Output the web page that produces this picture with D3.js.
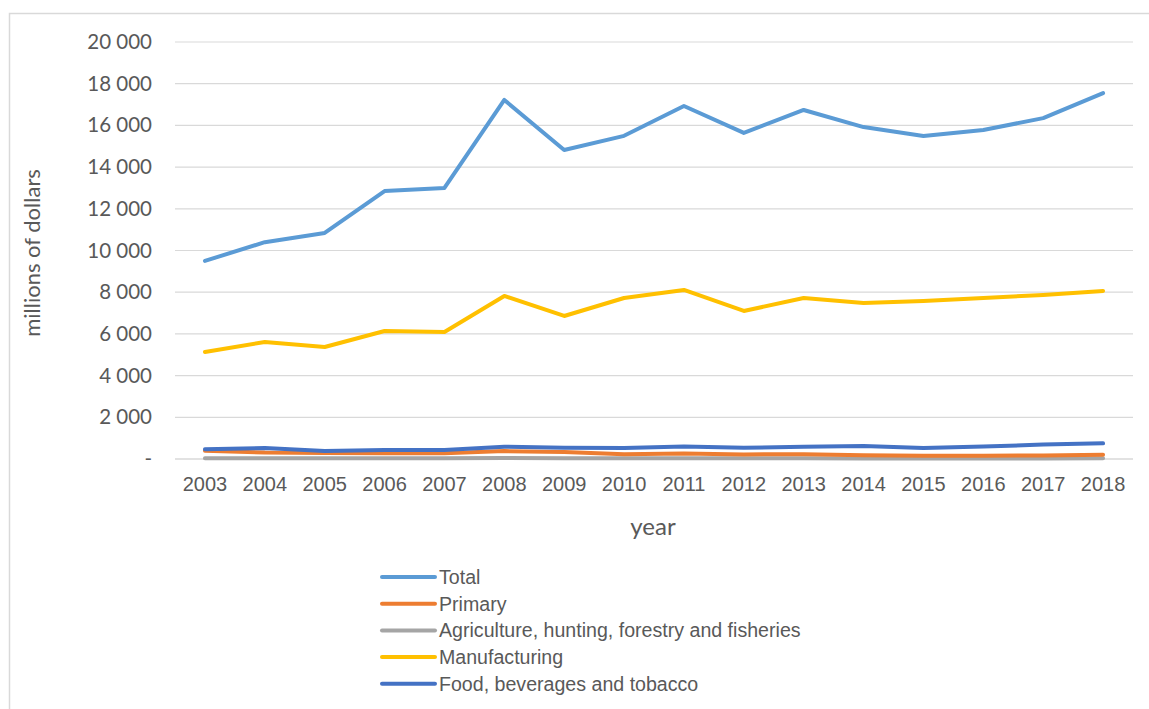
<!DOCTYPE html>
<html>
<head>
<meta charset="utf-8">
<script src="https://cdn.jsdelivr.net/npm/d3@7"></script>
<style>
  html, body { margin: 0; padding: 0; background: #fff; }
  svg { display: block; }
</style>
</head>
<body>
<svg id="chart" width="1149" height="709"></svg>
<script>
// Investment by sector, millions of dollars
const years = ["2003","2004","2005","2006","2007","2008","2009","2010","2011","2012","2013","2014","2015","2016","2017","2018"];
const total = [9500, 10400, 10840, 12850, 13000, 17220, 14820, 15500, 16930, 15640, 16740, 15920, 15490, 15780, 16350, 17550];
const primary = [400, 310, 290, 280, 280, 380, 330, 230, 260, 220, 230, 180, 160, 160, 170, 200];
const agriculture = [40, 40, 35, 35, 35, 45, 40, 35, 35, 35, 35, 30, 30, 30, 30, 35];
const manufacturing = [5130, 5610, 5370, 6140, 6090, 7820, 6860, 7720, 8110, 7100, 7720, 7480, 7580, 7720, 7870, 8060];
const food = [470, 530, 380, 430, 430, 590, 540, 530, 600, 540, 590, 620, 530, 600, 690, 750];
const yTicks = [0, 2000, 4000, 6000, 8000, 10000, 12000, 14000, 16000, 18000, 20000];

const seriesNames = ["Total", "Primary", "Agriculture, hunting, forestry and fisheries", "Manufacturing", "Food, beverages and tobacco"];
const seriesColors = ["#5B9BD5", "#ED7D31", "#A5A5A5", "#FFC000", "#4472C4"];
const series = [total, primary, agriculture, manufacturing, food];
// drawing order: agriculture underneath, food on top
const drawOrder = [2, 1, 4, 3, 0];

const svg = d3.select("#chart");

// chart frame
svg.append("rect")
  .attr("x", 9.5).attr("y", 13.5)
  .attr("width", 1200).attr("height", 800)
  .attr("fill", "none").attr("stroke", "#d9d9d9").attr("stroke-width", 1.5);

const plotLeft = 175, plotRight = 1133, plotTop = 42, plotBottom = 459;

const x = d3.scaleBand().domain(years).range([plotLeft, plotRight]);
const y = d3.scaleLinear().domain([0, 20000]).range([plotBottom, plotTop]);

const fmt = v => v === 0 ? "-" : d3.format(",")(v).replace(/,/g, " ");

// gridlines
svg.append("g")
  .selectAll("line").data(yTicks).join("line")
  .attr("x1", plotLeft).attr("x2", plotRight)
  .attr("y1", d => y(d)).attr("y2", d => y(d))
  .attr("stroke", "#d9d9d9").attr("stroke-width", d => d === 0 ? 1.5 : 1.2);

// y axis labels
const yAxis = d3.axisLeft(y).tickValues(yTicks).tickFormat(fmt).tickSize(0).tickPadding(0);
const yg = svg.append("g").attr("transform", `translate(${152},0)`).call(yAxis);
yg.select(".domain").remove();
yg.selectAll("text")
  .attr("font-family", "Lato, 'Open Sans', sans-serif")
  .attr("font-size", 20.5).attr("fill", "#595959");

// x axis labels
const xAxis = d3.axisBottom(x).tickSize(0).tickPadding(0);
const xg = svg.append("g").attr("transform", `translate(0,${plotBottom + 18})`).call(xAxis);
xg.select(".domain").remove();
xg.selectAll("text")
  .attr("font-family", "'Liberation Sans Narrow', 'Arial Narrow', 'Liberation Sans', sans-serif")
  .attr("font-size", 20).attr("fill", "#595959").attr("dy", "0.71em");

// axis titles
svg.append("text")
  .attr("transform", `translate(40,${253}) rotate(-90)`)
  .attr("text-anchor", "middle")
  .attr("font-family", "Lato, 'Open Sans', sans-serif")
  .attr("font-size", 22).attr("fill", "#595959")
  .text("millions of dollars");

svg.append("text")
  .attr("x", 653).attr("y", 535)
  .attr("text-anchor", "middle")
  .attr("font-family", "Lato, 'Open Sans', sans-serif")
  .attr("font-size", 24).attr("fill", "#595959")
  .text("year");

// series lines
const line = d3.line()
  .x((d, i) => x(years[i]) + x.bandwidth() / 2)
  .y(d => y(d));

svg.append("g")
  .selectAll("path").data(drawOrder).join("path")
  .attr("d", k => line(series[k]))
  .attr("fill", "none")
  .attr("stroke", k => seriesColors[k])
  .attr("stroke-width", 4)
  .attr("stroke-linecap", "round")
  .attr("stroke-linejoin", "round");

// legend
const lg = svg.append("g");
const rows = lg.selectAll("g").data(seriesNames).join("g")
  .attr("transform", (d, i) => `translate(382,${577 + i * 26.7})`);
rows.append("line")
  .attr("x1", 0).attr("x2", 53).attr("y1", 0).attr("y2", 0)
  .attr("stroke", (d, i) => seriesColors[i])
  .attr("stroke-width", 4).attr("stroke-linecap", "round");
rows.append("text")
  .attr("x", 57).attr("y", 0).attr("dy", "0.35em")
  .attr("font-family", "'Liberation Sans Narrow', 'Arial Narrow', 'Liberation Sans', sans-serif")
  .attr("font-size", 19.6).attr("fill", "#595959")
  .text(d => d);
</script>
</body>
</html>
